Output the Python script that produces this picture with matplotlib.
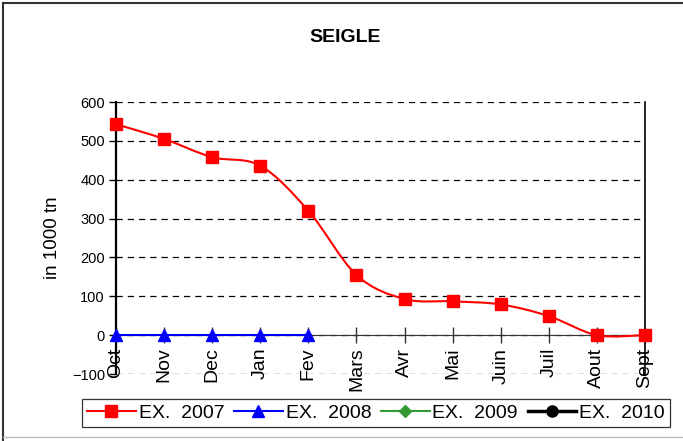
import numpy as np
import matplotlib
matplotlib.use('Agg')
import matplotlib.pyplot as plt
from matplotlib.path import Path
from matplotlib.patches import PathPatch
from matplotlib.lines import Line2D

plt.rcParams['font.family'] = ['Liberation Sans', 'DejaVu Sans']

months = ['Oct', 'Nov', 'Dec', 'Jan', 'Fev', 'Mars', 'Avr', 'Mai', 'Juin', 'Juil', 'Aout', 'Sept']
ex2007 = [543, 505, 458, 436, 320, 155, 93, 87, 79, 49, 0, 0]
ex2008 = [0, 0, 0, 0, 0]
ex2009 = []
ex2010 = []
yticks = [-100, 0, 100, 200, 300, 400, 500, 600]


def smooth_path(xs, ys):
    # excel style smoothed line: catmull-rom as cubic bezier
    pts = np.column_stack([xs, ys]).astype(float)
    verts = [pts[0]]
    codes = [Path.MOVETO]
    n = len(pts)
    for i in range(n - 1):
        p0 = pts[i - 1] if i > 0 else pts[i]
        p1 = pts[i]
        p2 = pts[i + 1]
        p3 = pts[i + 2] if i + 2 < n else pts[i + 1]
        c1 = p1 + (p2 - p0) / 6.0
        c2 = p2 - (p3 - p1) / 6.0
        verts += [c1, c2, p2]
        codes += [Path.CURVE4] * 3
    return Path(verts, codes)


fig = plt.figure(figsize=(6.83, 4.41), dpi=100)
ax = fig.add_axes([116 / 683, 1 - 374 / 441, (645 - 116) / 683, (374 - 102) / 441])

x = np.arange(len(months))
ax.add_patch(PathPatch(smooth_path(x, ex2007), facecolor='none', edgecolor='#FF0000', lw=1.5, zorder=3))
ax.plot(x, ex2007, ls='none', marker='s', ms=9, color='#FF0000', zorder=4, clip_on=False)
ax.plot(x[:len(ex2008)], ex2008, color='#0000FF', lw=1.5, marker='^', ms=9, zorder=5, clip_on=False)
ax.plot(x[:len(ex2009)], ex2009, color='#339933', lw=1.5, marker='D', ms=6)
ax.plot(x[:len(ex2010)], ex2010, color='black', lw=2.5, marker='o', ms=8)

ax.set_xlim(0, len(months) - 1)
ax.set_ylim(-100, 600)
ax.set_yticks(yticks)
ax.set_xticks(x)
ax.set_xticklabels(months)
ax.tick_params(axis='y', labelsize=10.5, direction='out', length=5, width=1, pad=3)
ax.tick_params(axis='x', direction='inout', length=12, width=1, pad=3,
               color='#333333', labelrotation=90, labelsize=14)
for lab in ax.get_xticklabels():
    lab.set_va('top')
ax.yaxis.grid(True, ls=(0, (5, 4)), color='black', lw=0.9)
ax.set_axisbelow(True)

ax.spines['bottom'].set_position(('data', 0))
ax.spines['bottom'].set_color('#333333')
ax.spines['top'].set_visible(False)
ax.spines['left'].set_linewidth(1.6)
ax.spines['right'].set_linewidth(1.2)
ax.set_ylabel('in 1000 tn', fontsize=13.5, labelpad=8)

fig.text(345 / 683, 1 - 38 / 441, 'SEIGLE', ha='center', va='center', fontsize=14, fontweight='bold')

handles = [
    Line2D([], [], color='#FF0000', lw=1.5, marker='s', ms=9),
    Line2D([], [], color='#0000FF', lw=1.5, marker='^', ms=9),
    Line2D([], [], color='#339933', lw=1.5, marker='D', ms=6),
    Line2D([], [], color='black', lw=2.5, marker='o', ms=8),
]
leg = fig.legend(handles, ['EX.  2007', 'EX.  2008', 'EX.  2009', 'EX.  2010'],
                 loc='center', bbox_to_anchor=(376 / 683, 1 - 413 / 441), ncol=4,
                 fontsize=14, frameon=True, fancybox=False, handlelength=2.5,
                 handletextpad=0.15, columnspacing=0.5, borderpad=0.25, borderaxespad=0)
leg.get_frame().set_edgecolor('black')
leg.get_frame().set_linewidth(0.9)

# chart area frame
fig.add_artist(Line2D([3 / 683, 3 / 683], [0, 1 - 3 / 441], color='#333333', lw=1.5))
fig.add_artist(Line2D([3 / 683, 1], [1 - 3 / 441, 1 - 3 / 441], color='#333333', lw=1.5))
fig.add_artist(Line2D([3 / 683, 1], [1 - 437 / 441, 1 - 437 / 441], color='#bbbbbb', lw=1))

fig.savefig('out.png', dpi=100)
